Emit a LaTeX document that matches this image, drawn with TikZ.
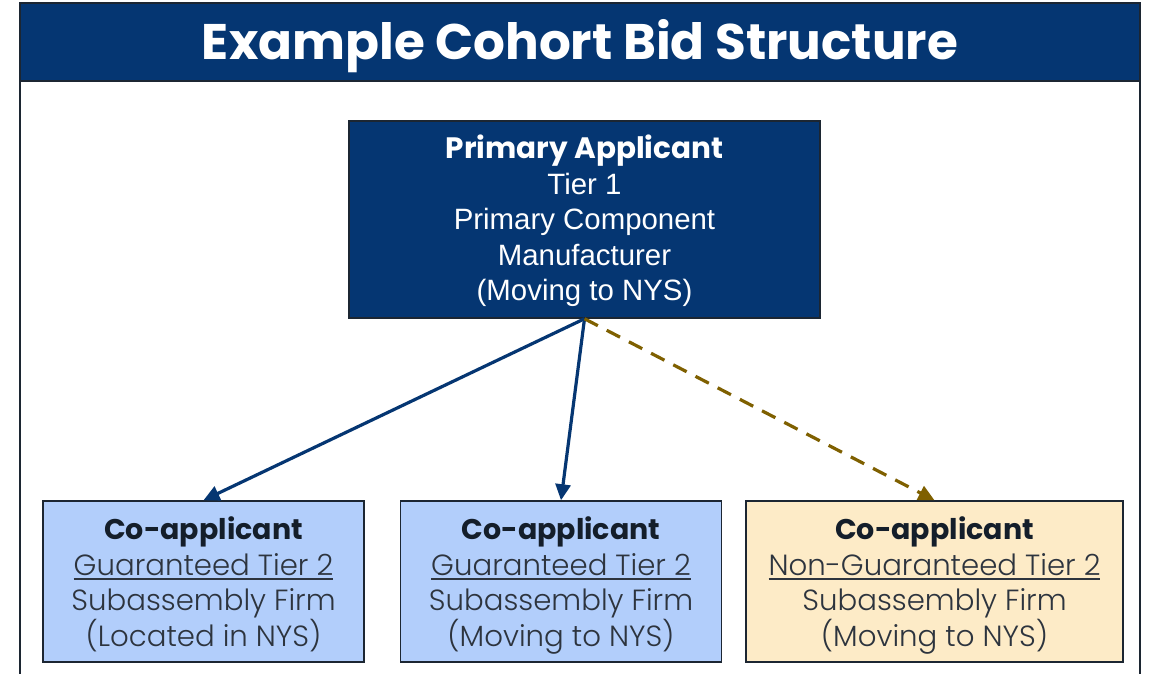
\documentclass[tikz,border=0pt]{standalone}
\usepackage{fontspec}
\setmainfont{Liberation Sans}
\newfontfamily\pop{Poppins}
\newfontfamily\popl{Poppins Light}
\usetikzlibrary{arrows.meta}
\definecolor{navy}{RGB}{5,54,114}
\definecolor{framec}{RGB}{28,38,50}
\definecolor{lblue}{RGB}{178,206,251}
\definecolor{cream}{RGB}{253,235,199}
\definecolor{brownarr}{RGB}{127,96,0}
\definecolor{dtext}{RGB}{20,30,42}
\definecolor{gtext}{RGB}{45,52,62}
\newcommand\myul[1]{\setbox0\hbox{#1}\rlap{\color{gtext}\rule[-4.5pt]{\wd0}{1.4pt}}\box0}
\tikzset{
  frameline/.style={draw=framec, line width=2pt},
  titletext/.style={text=white, font=\pop\bfseries\fontsize{50}{60}\selectfont, inner sep=0pt},
  primbox/.style={draw=framec, line width=1.5pt, fill=navy, text=white, align=center, inner sep=0pt,
    minimum width=471pt, minimum height=197pt, font=\fontsize{29.4}{35.5}\selectfont},
  cobox/.style={draw=framec, line width=1.5pt, text=gtext, align=center, inner sep=0pt,
    minimum height=161pt, font=\popl\fontsize{29.2}{35.4}\selectfont},
  solidarrow/.style={draw=navy, line width=3.2pt, -{Triangle[length=16pt,width=15pt]}},
  dasharrow/.style={draw=brownarr, line width=3.2pt, dash pattern=on 15pt off 10pt, -{Triangle[length=16pt,width=15pt]}},
}
\begin{document}
\begin{tikzpicture}[x=1pt,y=-1pt]
\useasboundingbox (0,0) rectangle (1150,673);
\fill[white] (0,0) rectangle (1150,673);
\fill[navy] (20,3) rectangle (1140,81);
\draw[frameline] (20,81) -- (1140,81);
\draw[frameline] (20,690) -- (20,3) -- (1140,3) -- (1140,690);
\node[titletext] (title) at (580,46) {Example Cohort Bid Structure};
\node[primbox] (prim) at (584.5,219.5) {{\pop\bfseries\fontsize{29.5}{35.5}\selectfont Primary Applicant}\\Tier 1\\Primary Component\\Manufacturer\\\raisebox{0pt}[\height][3.5pt]{(Moving to NYS)}};
\node[cobox, fill=lblue, minimum width=321pt] (co1) at (203.5,581.5) {{\pop\bfseries\color{dtext}\fontsize{28.5}{35.4}\selectfont Co-applicant}\\\myul{Guaranteed Tier 2}\\Subassembly Firm\\\smash{(Located in NYS)}};
\node[cobox, fill=lblue, minimum width=321pt] (co2) at (561,581.5) {{\pop\bfseries\color{dtext}\fontsize{28.5}{35.4}\selectfont Co-applicant}\\\myul{Guaranteed Tier 2}\\Subassembly Firm\\\smash{(Moving to NYS)}};
\node[cobox, fill=cream, minimum width=377pt] (co3) at (934.5,581.5) {{\pop\bfseries\color{dtext}\fontsize{28.5}{35.4}\selectfont Co-applicant}\\\myul{Non-Guaranteed Tier 2}\\Subassembly Firm\\\smash{(Moving to NYS)}};
\draw[solidarrow] (prim.south) -- (co1.north);
\draw[solidarrow] (prim.south) -- (co2.north);
\draw[dasharrow] (prim.south) -- (co3.north);
\end{tikzpicture}
\end{document}
